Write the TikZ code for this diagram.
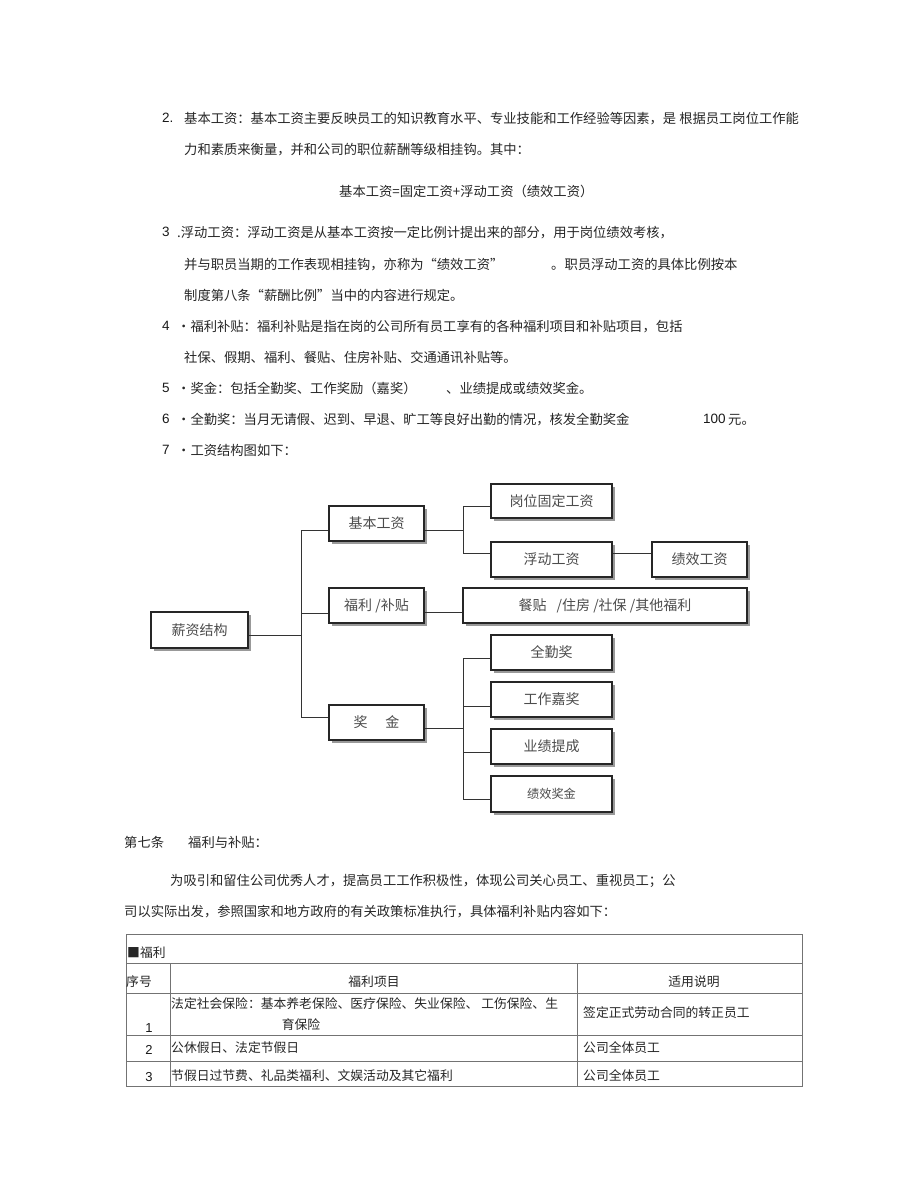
\documentclass[tikz,border=0pt]{standalone}
\usepackage{fontspec}
\setmainfont{Noto Sans CJK SC}
\newfontfamily\arialf{Liberation Sans}
\usetikzlibrary{shadows,calc}
\begin{document}
\begin{tikzpicture}[x=1pt,y=-1pt,
  txt/.style={anchor=west, inner sep=0pt, font=\fontsize{13.3}{14}\selectfont, text=black!85, text height=11.7pt, text depth=1.6pt},
  ttxt/.style={anchor=west, inner sep=0pt, font=\fontsize{12.8}{14}\selectfont, text=black!85, text height=11.3pt, text depth=1.5pt},
  num/.style={anchor=west, inner sep=0pt, font=\arialf\fontsize{13.5}{14}\selectfont, text=black!90, text height=9.7pt, text depth=0pt},
  tnum/.style={anchor=center, inner sep=0pt, font=\arialf\fontsize{13}{14}\selectfont, text=black!90, text height=9.4pt, text depth=0pt},
  box/.style={draw=black!85, line width=1.1pt, fill=white, inner sep=0pt, font=\fontsize{14}{16}\selectfont, text=black!70,
    drop shadow={shadow xshift=2.5pt, shadow yshift=-2.5pt, fill=black!40, opacity=1}},
  conn/.style={draw=black!80, line width=1pt},
  tline/.style={draw=black!55, line width=0.6pt}
]
\useasboundingbox (0,0) rectangle (920,1192);
\fill[white] (0,0) rectangle (920,1192);

% ---- body text ----
\node[num] (n2) at (162,118) {2.};
\node[txt] (l1) at (184,118) {基本工资：基本工资主要反映员工的知识教育水平、专业技能和工作经验等因素，是 根据员工岗位工作能};
\node[txt] (l2) at (184,149) {力和素质来衡量，并和公司的职位薪酬等级相挂钩。其中：};
\node[txt] (fm) at (339,191) {基本工资=固定工资+浮动工资（绩效工资）};
\node[num] (n3) at (162,232) {3};
\node[txt] (l3) at (177,232) {.浮动工资：浮动工资是从基本工资按一定比例计提出来的部分，用于岗位绩效考核，};
\node[txt] (l4a) at (184,264) {并与职员当期的工作表现相挂钩，亦称为“绩效工资”};
\node[txt] (l4b) at (551,264) {。职员浮动工资的具体比例按本};
\node[txt] (l5) at (184,295) {制度第八条“薪酬比例”当中的内容进行规定。};
\node[num] (n4) at (162,326) {4};
\node[txt] (l6) at (177,326) {・福利补贴：福利补贴是指在岗的公司所有员工享有的各种福利项目和补贴项目，包括};
\node[txt] (l7) at (184,357) {社保、假期、福利、餐贴、住房补贴、交通通讯补贴等。};
\node[num] (n5) at (162,388) {5};
\node[txt] (l8a) at (177,388) {・奖金：包括全勤奖、工作奖励（嘉奖）};
\node[txt] (l8b) at (446,388) {、业绩提成或绩效奖金。};
\node[num] (n6) at (162,419) {6};
\node[txt] (l9a) at (177,419) {・全勤奖：当月无请假、迟到、早退、旷工等良好出勤的情况，核发全勤奖金};
\node[num] (l9n) at (703,419) {100};
\node[txt] (l9b) at (728,419) {元。};
\node[num] (n7) at (162,450) {7};
\node[txt] (l10) at (177,450) {・工资结构图如下：};

% ---- diagram boxes ----
\node[box, minimum width=97pt, minimum height=36pt] (root) at (199.5,630) {薪资结构};
\node[box, minimum width=95pt, minimum height=35pt] (jb) at (376.5,523.5) {基本工资};
\node[box, minimum width=95pt, minimum height=35pt] (fl) at (376.5,605.5) {福利 /补贴};
\node[box, minimum width=95pt, minimum height=35pt] (jj) at (376.5,722.5) {奖\hspace{18pt}金};
\node[box, minimum width=121pt, minimum height=34pt] (gw) at (551.5,501) {岗位固定工资};
\node[box, minimum width=121pt, minimum height=35pt] (fd) at (551.5,559.5) {浮动工资};
\node[box, minimum width=95pt, minimum height=35pt] (jx) at (699.5,559.5) {绩效工资};
\node[box, minimum width=284pt, minimum height=35pt] (cz) at (605,605.5) {餐贴\hspace{10pt}/住房 /社保 /其他福利};
\node[box, minimum width=121pt, minimum height=35pt] (qq) at (551.5,652.5) {全勤奖};
\node[box, minimum width=121pt, minimum height=35pt] (gz) at (551.5,699.5) {工作嘉奖};
\node[box, minimum width=121pt, minimum height=35pt] (yj) at (551.5,746.5) {业绩提成};
\node[box, minimum width=121pt, minimum height=36pt, font=\fontsize{12.2}{14}\selectfont] (jj2) at (551.5,794) {绩效奖金};

% ---- junctions ----
\coordinate (tR) at (301,635);
\coordinate (tA) at (301,530);
\coordinate (tF) at (301,613);
\coordinate (tJ) at (301,717);
\coordinate (gJ) at (463,530);
\coordinate (gA) at (463,506);
\coordinate (gB) at (463,553);
\coordinate (cF) at (463,612);
\coordinate (bJ) at (463,728);
\coordinate (b1) at (463,658);
\coordinate (b2) at (463,706);
\coordinate (b3) at (463,752);
\coordinate (b4) at (463,799);

% ---- connectors ----
\draw[conn] (root.east |- tR) -- (tR);
\draw[conn] (jb.west |- tA) -- (tA) -- (tJ) -- (jj.west |- tJ);
\draw[conn] (tF) -- (fl.west |- tF);
\draw[conn] (jb.east |- gJ) -- (gJ);
\draw[conn] (gw.west |- gA) -- (gA) -- (gB) -- (fd.west |- gB);
\draw[conn] (fd.east |- gB) -- (jx.west |- gB);
\draw[conn] (fl.east |- cF) -- (cz.west |- cF);
\draw[conn] (jj.east |- bJ) -- (bJ);
\draw[conn] (qq.west |- b1) -- (b1) -- (b4) -- (jj2.west |- b4);
\draw[conn] (b2) -- (gz.west |- b2);
\draw[conn] (b3) -- (yj.west |- b3);

% ---- section 7 ----
\node[txt] (s7a) at (124,842) {第七条};
\node[txt] (s7b) at (188,842) {福利与补贴：};
\node[txt] (p1) at (170,880) {为吸引和留住公司优秀人才，提高员工工作积极性，体现公司关心员工、重视员工；公};
\node[txt] (p2) at (124,911) {司以实际出发，参照国家和地方政府的有关政策标准执行，具体福利补贴内容如下：};

% ---- table ----
\draw[tline] (126,934) rectangle (802,1086);
\draw[tline] (126,963) -- (802,963);
\draw[tline] (126,993) -- (802,993);
\draw[tline] (126,1035) -- (802,1035);
\draw[tline] (126,1061) -- (802,1061);
\draw[tline] (170,963) -- (170,1086);
\draw[tline] (577,963) -- (577,1086);

\node[ttxt] (th) at (127,953) {■福利};
\node[ttxt] (h1) at (126,982) {序号};
\node[ttxt, anchor=center] (h2) at (374,982) {福利项目};
\node[ttxt, anchor=center] (h3) at (694,982) {适用说明};
\node[ttxt] (r1a) at (171,1004) {法定社会保险：基本养老保险、医疗保险、失业保险、 工伤保险、生};
\node[ttxt, anchor=center] (r1b) at (301,1025) {育保险};
\node[tnum] (r1n) at (149,1028) {1};
\node[ttxt] (r1c) at (583,1013) {签定正式劳动合同的转正员工};
\node[tnum] (r2n) at (149,1050) {2};
\node[ttxt] (r2a) at (171,1048) {公休假日、法定节假日};
\node[ttxt] (r2c) at (583,1048) {公司全体员工};
\node[tnum] (r3n) at (149,1077) {3};
\node[ttxt] (r3a) at (171,1076) {节假日过节费、礼品类福利、文娱活动及其它福利};
\node[ttxt] (r3c) at (583,1076) {公司全体员工};
\end{tikzpicture}
\end{document}
